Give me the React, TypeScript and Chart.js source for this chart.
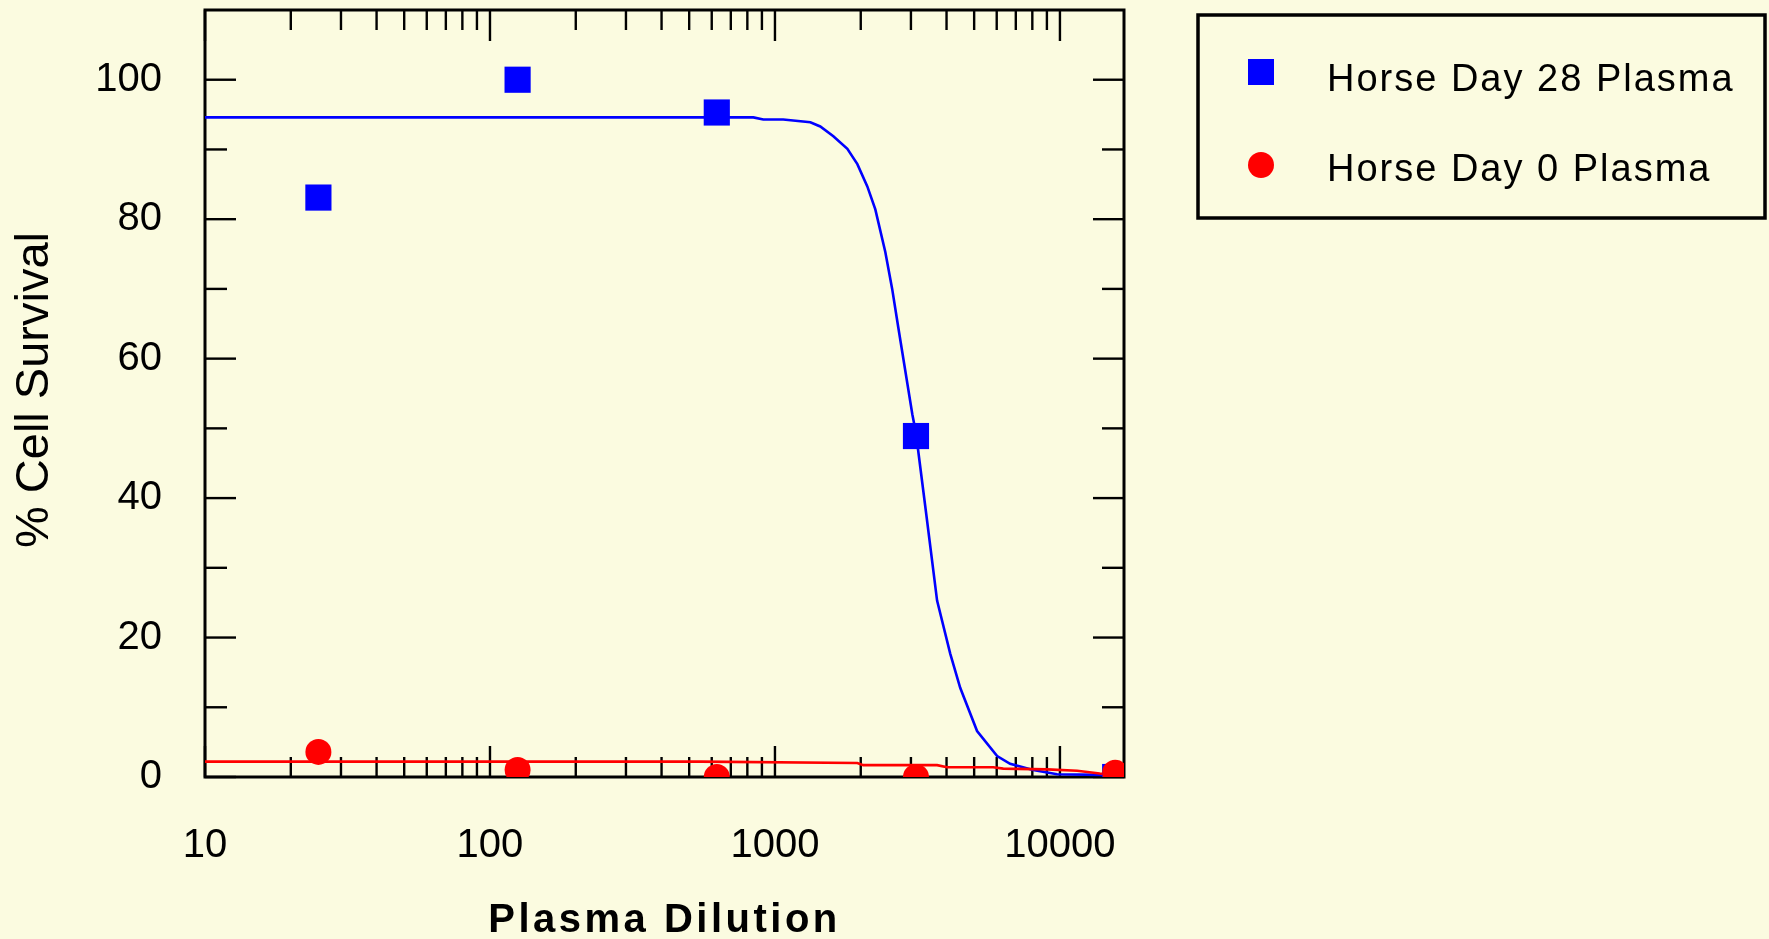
import React, { useEffect, useRef } from "react";
import { Chart, registerables } from "chart.js";

Chart.register(...registerables);

// ---- data ----
const dilutions = [25, 125, 625, 3125, 15625];
const day28Survival = [83.1, 100, 95.3, 48.9, 0];
const day0Survival = [3.6, 1.0, 0, 0, 0.6];

const day28FitX = [10, 840, 910, 1069, 1331, 1442, 1603, 1795, 1946, 2109, 2250, 2439, 2578, 2708, 3035, 3125, 3400, 3706, 4121, 4467, 5119, 6020, 6686, 8050, 9776, 13800, 15625];
const day28FitY = [94.6, 94.6, 94.3, 94.3, 93.9, 93.3, 91.9, 90.1, 87.9, 84.7, 81.4, 75.3, 70.0, 64.5, 52.0, 49.3, 37.5, 25.3, 17.7, 12.8, 6.6, 3.0, 1.9, 1.0, 0.4, 0.3, 0.1];

const day0FitX = [10, 548, 1946, 2041, 3706, 4018, 5834, 6324, 9016, 11490, 13800, 15625];
const day0FitY = [2.2, 2.2, 2.0, 1.7, 1.7, 1.4, 1.4, 1.2, 1.1, 0.9, 0.5, 0.3];

const xMajorTicks = [10, 100, 1000, 10000];
const xMinorTicks = [20, 30, 40, 50, 60, 70, 80, 90, 200, 300, 400, 500, 600, 700, 800, 900, 2000, 3000, 4000, 5000, 6000, 7000, 8000, 9000];
const yMajorTicks = [0, 20, 40, 60, 80, 100];
const yMinorTicks = [10, 30, 50, 70, 90];

const seriesLabels = ["Horse Day 28 Plasma", "Horse Day 0 Plasma"];
const xTitle = "Plasma Dilution";
const yTitle = "% Cell Survival";

const BG = "#fbfbe0";
const BLUE = "#0000ff";
const RED = "#ff0000";
const FONT = "'Liberation Sans', Arial, Helvetica, sans-serif";

const toPts = (xs: number[], ys: number[]) => xs.map((x, i) => ({ x, y: ys[i] }));

const bgPlugin = {
  id: "bgFill",
  beforeDraw(chart: any) {
    const { ctx, width, height } = chart;
    ctx.save();
    ctx.fillStyle = BG;
    ctx.fillRect(0, 0, width, height);
    ctx.restore();
  },
};

const framePlugin = {
  id: "frameTicks",
  beforeDatasetsDraw(chart: any) {
    const { ctx, chartArea, scales } = chart;
    const { left, right, top, bottom } = chartArea;
    const x = scales.x;
    const y = scales.y;
    ctx.save();
    ctx.strokeStyle = "#000";
    ctx.lineWidth = 2.4;
    ctx.lineCap = "butt";
    const vline = (px: number, y1: number, y2: number) => {
      ctx.beginPath();
      ctx.moveTo(px, y1);
      ctx.lineTo(px, y2);
      ctx.stroke();
    };
    const hline = (py: number, x1: number, x2: number) => {
      ctx.beginPath();
      ctx.moveTo(x1, py);
      ctx.lineTo(x2, py);
      ctx.stroke();
    };
    xMajorTicks.forEach((v) => {
      const px = x.getPixelForValue(v);
      vline(px, bottom, bottom - 31);
      vline(px, top, top + 31);
    });
    xMinorTicks.forEach((v) => {
      const px = x.getPixelForValue(v);
      vline(px, bottom, bottom - 20);
      vline(px, top, top + 20);
    });
    yMajorTicks.forEach((v) => {
      const py = y.getPixelForValue(v);
      hline(py, left, left + 31);
      hline(py, right, right - 31);
    });
    yMinorTicks.forEach((v) => {
      const py = y.getPixelForValue(v);
      hline(py, left, left + 22);
      hline(py, right, right - 22);
    });
    ctx.lineWidth = 3;
    ctx.strokeRect(left, top, right - left, bottom - top);
    ctx.restore();
  },
};

const titleLegendPlugin = {
  id: "titlesLegend",
  afterDraw(chart: any) {
    const { ctx, chartArea } = chart;
    const { left, right } = chartArea;
    ctx.save();
    ctx.fillStyle = "#000";
    // x title
    ctx.font = `bold 40px ${FONT}`;
    (ctx as any).letterSpacing = "3.5px";
    ctx.textAlign = "center";
    ctx.textBaseline = "middle";
    ctx.fillText(xTitle, (left + right) / 2, 921);
    // y title
    (ctx as any).letterSpacing = "0px";
    ctx.font = `47px ${FONT}`;
    ctx.save();
    ctx.translate(35, 390);
    ctx.rotate(-Math.PI / 2);
    ctx.fillText(yTitle, 0, 0);
    ctx.restore();

    // legend box
    ctx.lineWidth = 3.5;
    ctx.strokeStyle = "#000";
    ctx.strokeRect(1198, 15, 567, 203);
    const markerX = 1261;
    const rows = [72, 165];
    ctx.fillStyle = BLUE;
    ctx.fillRect(markerX - 13, rows[0] - 13, 26, 26);
    ctx.fillStyle = RED;
    ctx.beginPath();
    ctx.arc(markerX, rows[1], 13, 0, Math.PI * 2);
    ctx.fill();
    ctx.fillStyle = "#000";
    ctx.font = `38px ${FONT}`;
    (ctx as any).letterSpacing = "2px";
    ctx.textAlign = "left";
    ctx.textBaseline = "middle";
    ctx.fillText(seriesLabels[0], 1327, rows[0] + 9);
    ctx.fillText(seriesLabels[1], 1327, rows[1] + 6);
    (ctx as any).letterSpacing = "0px";
    ctx.restore();
  },
};

export default function App() {
  const canvasRef = useRef<HTMLCanvasElement | null>(null);

  useEffect(() => {
    const canvas = canvasRef.current;
    if (!canvas) return;
    const chart = new Chart(canvas, {
      type: "scatter",
      data: {
        datasets: [
          {
            label: seriesLabels[1],
            data: toPts(dilutions, day0Survival),
            pointStyle: "circle",
            pointRadius: 13,
            pointHoverRadius: 13,
            backgroundColor: RED,
            borderColor: RED,
            borderWidth: 0,
            showLine: false,
          },
          {
            label: seriesLabels[0],
            data: toPts(dilutions, day28Survival),
            pointStyle: "rect",
            pointRadius: 18.5,
            pointHoverRadius: 18.5,
            backgroundColor: BLUE,
            borderColor: BLUE,
            borderWidth: 0,
            showLine: false,
          },
          {
            label: "Day 0 fit",
            data: toPts(day0FitX, day0FitY),
            showLine: true,
            pointRadius: 0,
            borderColor: RED,
            borderWidth: 2.6,
            tension: 0,
            fill: false,
          },
          {
            label: "Day 28 fit",
            data: toPts(day28FitX, day28FitY),
            showLine: true,
            pointRadius: 0,
            borderColor: BLUE,
            borderWidth: 2.6,
            tension: 0,
            fill: false,
          },
        ],
      },
      options: {
        responsive: false,
        animation: false,
        devicePixelRatio: 1,
        layout: { autoPadding: false, padding: { left: 0, top: 10, right: 645, bottom: 0 } },
        plugins: {
          legend: { display: false },
          tooltip: { enabled: false },
        },
        scales: {
          x: {
            type: "logarithmic",
            min: 10,
            max: 16780,
            grid: { display: false, drawTicks: false },
            border: { display: false },
            afterBuildTicks: (s: any) => {
              s.ticks = xMajorTicks.map((v) => ({ value: v }));
            },
            afterFit: (s: any) => {
              s.height = 162;
              s.paddingLeft = 0;
              s.paddingRight = 0;
            },
            ticks: {
              autoSkip: false,
              maxRotation: 0,
              color: "#000",
              padding: 45,
              font: { family: FONT, size: 40 },
              callback: (v: any) => String(v),
            },
          },
          y: {
            type: "linear",
            min: 0,
            max: 110,
            grid: { display: false, drawTicks: false },
            border: { display: false },
            afterBuildTicks: (s: any) => {
              s.ticks = yMajorTicks.map((v) => ({ value: v }));
            },
            afterFit: (s: any) => {
              s.width = 205;
              s.paddingTop = 0;
              s.paddingBottom = 0;
            },
            ticks: {
              color: "#000",
              padding: 43,
              font: { family: FONT, size: 40 },
              callback: (v: any) => String(v),
            },
          },
        },
      },
      plugins: [bgPlugin, framePlugin, titleLegendPlugin],
    } as any);
    return () => chart.destroy();
  }, []);

  return (
    <div style={{ position: "fixed", left: 0, top: 0, width: 1769, height: 939, background: BG }}>
      <canvas ref={canvasRef} width={1769} height={939} style={{ display: "block", width: 1769, height: 939 }} />
    </div>
  );
}
